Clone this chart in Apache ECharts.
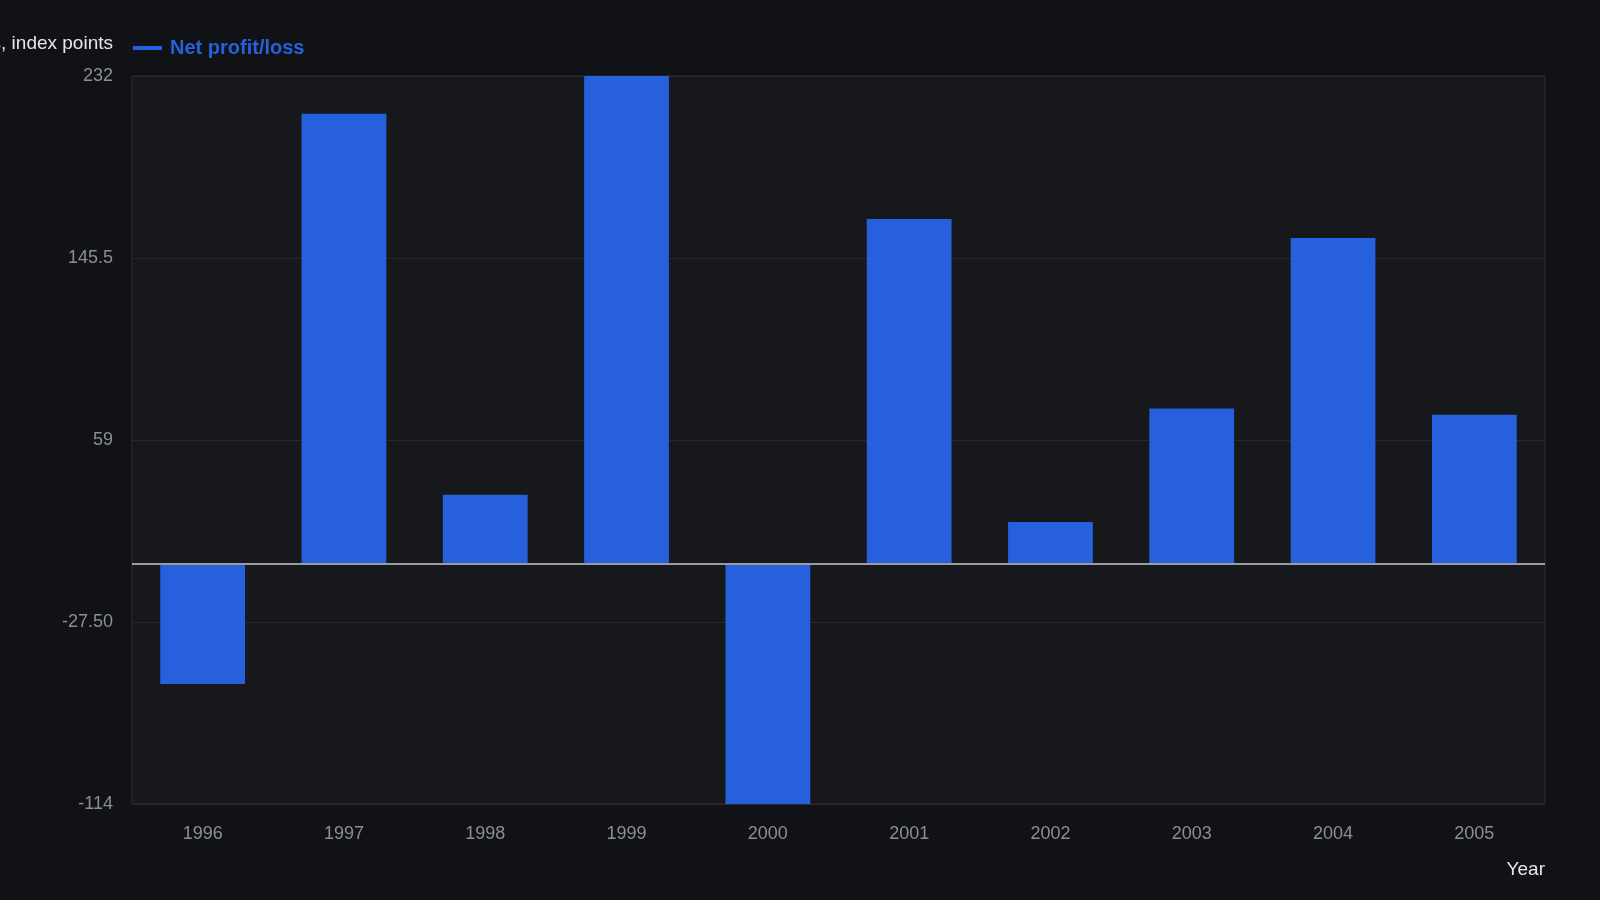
<!doctype html>
<html>
<head>
    <meta charset="UTF-8">
    <title>Net profit/loss</title>
    <script src="https://cdn.jsdelivr.net/npm/echarts@6/dist/echarts.min.js"></script>
    <style>
        html, body { margin: 0; padding: 0; background: #111216; }
        #main { width: 1600px; height: 900px; }
    </style>
</head>
<body>
<div id="main"></div>
<script>
    // 数据
    var years = ['1996', '1997', '1998', '1999', '2000', '2001', '2002', '2003', '2004', '2005'];
    var netProfit = [-57, 214, 33, 232, -114, 164, 20, 74, 155, 71];
    var yMin = -114, yMax = 232, yStep = 86.5;

    var barColor = '#2660dc';
    var myChart = echarts.init(document.getElementById('main'));

    var option = {
        backgroundColor: '#111216',
        textStyle: { fontFamily: '"Liberation Sans", Arial, sans-serif' },
        legend: {
            left: 128,
            top: 33,
            icon: 'rect',
            itemWidth: 29,
            itemHeight: 4,
            textStyle: { color: barColor, fontSize: 20, fontWeight: 'bold', padding: [0, 0, 0, 3] },
            data: ['Net profit/loss']
        },
        grid: {
            left: 132,
            right: 55,
            top: 76,
            bottom: 96,
            outerBoundsMode: 'none',
            containLabel: false,
            show: true,
            backgroundColor: '#17181c',
            borderColor: '#2c2e33',
            borderWidth: 1
        },
        xAxis: {
            type: 'category',
            data: years,
            name: 'Year',
            nameLocation: 'end',
            nameGap: 0,
            nameTextStyle: {
                color: '#e6e6e6', fontSize: 19, align: 'right', verticalAlign: 'top',
                padding: [56, 0, 0, 0]
            },
            axisLine: { onZero: false, show: false },
            axisTick: { show: false },
            axisLabel: { color: '#8b8e95', fontSize: 18, margin: 21 },
            splitLine: { show: false }
        },
        yAxis: {
            type: 'value',
            min: yMin,
            max: yMax,
            interval: yStep,
            name: 'Net profit/loss, index points',
            nameLocation: 'end',
            nameGap: 32,
            nameTextStyle: {
                color: '#e6e6e6', fontSize: 19, align: 'right', verticalAlign: 'middle',
                padding: [0, 19, 0, 0]
            },
            axisLine: { show: false },
            axisTick: { show: false },
            axisLabel: {
                color: '#8b8e95', fontSize: 18, margin: 19,
                formatter: function (v) {
                    if (v === -27.5) return '-27.50';
                    return String(v);
                }
            },
            splitLine: { lineStyle: { color: '#26282d', width: 1 } }
        },
        series: [
            {
                name: 'Net profit/loss',
                type: 'bar',
                data: netProfit,
                barWidth: '60%',
                itemStyle: { color: barColor },
                markLine: {
                    silent: true,
                    symbol: 'none',
                    label: { show: false },
                    lineStyle: { color: '#9a9ca2', width: 2, type: 'solid' },
                    data: [{ yAxis: 0 }]
                }
            }
        ]
    };
    myChart.setOption(option);
</script>
</body>
</html>
